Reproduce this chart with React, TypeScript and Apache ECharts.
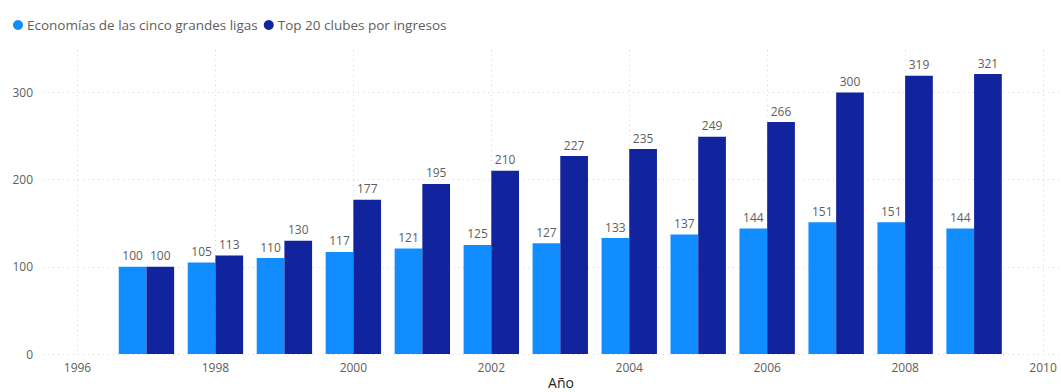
import React, { useEffect, useRef } from "react";
import * as echarts from "echarts";

const years = [1997, 1998, 1999, 2000, 2001, 2002, 2003, 2004, 2005, 2006, 2007, 2008, 2009];
const economias = [100, 105, 110, 117, 121, 125, 127, 133, 137, 144, 151, 151, 144];
const top20 = [100, 113, 130, 177, 195, 210, 227, 235, 249, 266, 300, 319, 321];
const seriesNames = ["Economías de las cinco grandes ligas", "Top 20 clubes por ingresos"];
const axisTitle = "Año";

const FONT = "'Segoe UI', 'Open Sans', 'Noto Sans', sans-serif";
const TEXT = "#605E5C";

export default function App() {
  const ref = useRef<HTMLDivElement>(null);
  useEffect(() => {
    if (!ref.current) return;
    const chart = echarts.init(ref.current, null, { renderer: "svg" });
    const label = {
      show: true,
      position: "top",
      distance: 5,
      color: TEXT,
      fontSize: 12,
      fontFamily: FONT,
    };
    chart.setOption({
      animation: false,
      textStyle: { fontFamily: FONT },
      legend: {
        left: 8,
        top: 13,
        itemWidth: 10,
        itemHeight: 10,
        itemGap: 6,
        icon: "circle",
        textStyle: { color: TEXT, fontSize: 13.5, fontFamily: FONT, padding: [0, 0, 0, -1] },
        data: seriesNames,
      },
      graphic: [
        {
          type: "text",
          x: 561,
          y: 382,
          style: {
            text: axisTitle,
            fill: "#252423",
            fontSize: 14,
            fontFamily: FONT,
            align: "center",
            verticalAlign: "middle",
          },
        },
      ],
      grid: { left: 43, right: 0, top: 50, bottom: 38, containLabel: false, outerBoundsMode: "none" },
      xAxis: {
        type: "value",
        min: 1995.5,
        max: 2010.26,
        splitNumber: 7,
        minInterval: 2,
        maxInterval: 2,
        axisLine: { show: false },
        axisTick: { show: false },
        axisLabel: {
          color: TEXT,
          fontSize: 12,
          fontFamily: FONT,
          margin: 7,
          showMinLabel: false,
          showMaxLabel: false,
          formatter: (v: number) => (Number.isInteger(v) && v % 2 === 0 ? String(v) : ""),
        },
        splitLine: {
          show: true,
          showMinLine: false,
          showMaxLine: false,
          lineStyle: { color: "#D6D6D6", type: [1, 4], width: 1 },
        },
      },
      yAxis: {
        type: "value",
        min: 0,
        max: 348.6,
        interval: 100,
        axisLine: { show: false },
        axisTick: { show: false },
        axisLabel: {
          color: TEXT,
          fontSize: 12,
          fontFamily: FONT,
          margin: 10,
          showMaxLabel: false,
          formatter: (v: number) => (v % 100 === 0 ? String(v) : ""),
        },
        splitLine: {
          show: true,
          showMaxLine: false,
          lineStyle: { color: "#D6D6D6", type: [1, 4], width: 1 },
        },
      },
      series: [
        {
          name: seriesNames[0],
          type: "bar",
          barWidth: 27.7,
          barGap: "0%",
          itemStyle: { color: "#118DFF" },
          label,
          data: years.map((y, i) => [y, economias[i]]),
        },
        {
          name: seriesNames[1],
          type: "bar",
          barWidth: 27.7,
          barGap: "0%",
          itemStyle: { color: "#12239E" },
          label,
          data: years.map((y, i) => [y, top20[i]]),
        },
      ],
    });
    return () => chart.dispose();
  }, []);
  return (
    <div
      ref={ref}
      style={{ position: "fixed", left: 0, top: 0, width: 1061, height: 392, background: "#fff" }}
    />
  );
}
